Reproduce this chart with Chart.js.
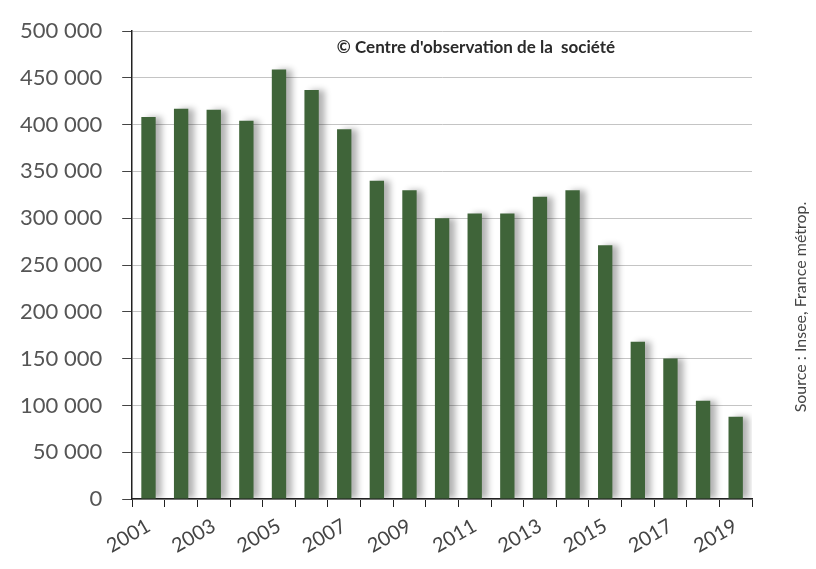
<!DOCTYPE html>
<html>
<head>
<meta charset="utf-8">
<script src="https://cdn.jsdelivr.net/npm/chart.js@4.4.0/dist/chart.umd.min.js"></script>
<style>
  html, body { margin: 0; padding: 0; background: #fff; }
  #wrap { width: 816px; height: 569px; position: relative; }
</style>
</head>
<body>
<div id="wrap"><canvas id="graphique"></canvas></div>
<script>
const annees = ['2001', '2002', '2003', '2004', '2005', '2006', '2007', '2008', '2009', '2010',
  '2011', '2012', '2013', '2014', '2015', '2016', '2017', '2018', '2019'];
const valeurs = [408000, 417000, 416000, 404000, 459000, 437000, 395000, 340000, 330000, 300000,
  305000, 305000, 323000, 330000, 271000, 168000, 150000, 105000, 88000];
const titre = "© Centre d'observation de la  société";
const source = 'Source : Insee, France métrop.';

function formatNombre(v) {
  return v.toString().replace(/\B(?=(\d{3})+(?!\d))/g, ' ');
}

// ombre grise à droite des barres
const ombre = {
  id: 'ombre',
  beforeDatasetsDraw(chart) {
    const ctx = chart.ctx;
    ctx.save();
    ctx.shadowColor = 'rgba(0,0,0,0.3)';
    ctx.shadowBlur = 6;
    ctx.shadowOffsetX = 6;
    ctx.shadowOffsetY = 0;
  },
  afterDatasetsDraw(chart) {
    chart.ctx.restore();
  }
};

const textes = {
  id: 'textes',
  afterDraw(chart) {
    const ctx = chart.ctx;
    const area = chart.chartArea;
    ctx.save();
    ctx.fillStyle = '#2a2a2a';
    ctx.font = 'bold 17px Lato';
    ctx.textAlign = 'center';
    ctx.textBaseline = 'middle';
    ctx.fillText(titre, 476, area.top + 17);
    ctx.translate(801, 307);
    ctx.rotate(-Math.PI / 2);
    ctx.font = '16px Lato';
    ctx.fillStyle = '#444';
    ctx.fillText(source, 0, 0);
    ctx.restore();
  }
};

new Chart(document.getElementById('graphique').getContext('2d'), {
  type: 'bar',
  data: {
    labels: annees,
    datasets: [{
      data: valeurs,
      backgroundColor: '#3f6439',
      barPercentage: 0.44,
      categoryPercentage: 1
    }]
  },
  options: {
    responsive: true,
    maintainAspectRatio: false,
    animation: false,
    layout: { padding: { left: 0, right: 64, top: 8, bottom: 4 } },
    plugins: {
      legend: { display: false },
      tooltip: { enabled: false }
    },
    scales: {
      x: {
        grid: {
          offset: true,
          drawOnChartArea: false,
          tickLength: 8,
          color: '#222'
        },
        border: { color: '#222', width: 1.5 },
        ticks: {
          autoSkip: false,
          maxRotation: 30,
          minRotation: 30,
          padding: 7,
          color: '#444',
          font: { family: 'Lato', size: 20 },
          callback: function (val, i) {
            return i % 2 === 0 ? annees[i] : '';
          }
        }
      },
      y: {
        min: 0,
        max: 500000,
        grid: {
          color: '#c4c4c4',
          tickLength: 10,
          tickColor: '#444'
        },
        border: { color: '#222', width: 1.5 },
        ticks: {
          stepSize: 50000,
          color: '#555',
          padding: 20,
          font: { family: 'Lato', size: 22, lineHeight: 1 },
          callback: v => formatNombre(v)
        }
      }
    }
  },
  plugins: [ombre, textes]
});
</script>
</body>
</html>
